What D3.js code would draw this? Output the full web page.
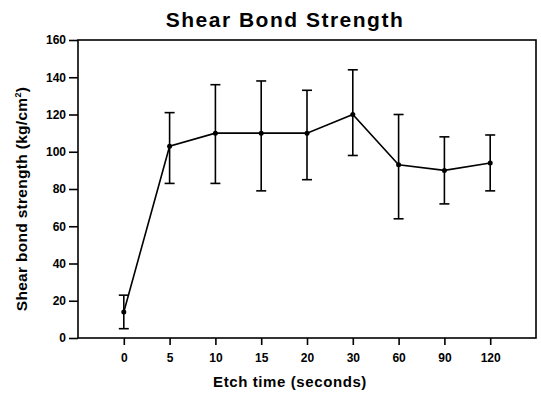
<!DOCTYPE html>
<html>
<head>
<meta charset="utf-8">
<script src="https://cdn.jsdelivr.net/npm/d3@7"></script>
<style>
  body { margin: 0; background: #fff; }
  text { font-family: "Liberation Sans", Arial, sans-serif; font-weight: bold; fill: #000; }
</style>
</head>
<body>
<div id="chart"></div>
<script>
// etch time categories (seconds) and mean / error limits
var times = ["0", "5", "10", "15", "20", "30", "60", "90", "120"];
var means = [14, 103, 110, 110, 110, 120, 93, 90, 94];
var upper = [23, 121, 136, 138, 133, 144, 120, 108, 109];
var lower = [5, 83, 83, 79, 85, 98, 64, 72, 79];
var yTicks = [0, 20, 40, 60, 80, 100, 120, 140, 160];

var width = 541, height = 393;
var padding = {top: 40, right: 5, bottom: 55, left: 78};

var svg = d3.select("#chart")
            .append("svg")
              .attr("width", width)
              .attr("height", height);

var xScale = d3.scalePoint()
               .domain(times)
               .range([padding.left, width - padding.right])
               .padding(1);

var yScale = d3.scaleLinear()
               .domain([0, 160])
               .range([height - padding.bottom, padding.top]);

var data = times.map((t, i) => ({t: t, m: means[i], hi: upper[i], lo: lower[i]}));

// frame
svg.append("rect")
   .attr("x", padding.left)
   .attr("y", padding.top)
   .attr("width", width - padding.left - padding.right)
   .attr("height", height - padding.top - padding.bottom)
   .attr("fill", "none")
   .attr("stroke", "#000")
   .attr("stroke-width", 1.6);

var yAxis = svg.append("g")
   .attr("transform", "translate(" + padding.left + ",0)")
   .call(d3.axisLeft(yScale).tickValues(yTicks).tickSize(9).tickPadding(3));
var xAxis = svg.append("g")
   .attr("transform", "translate(0," + (height - padding.bottom) + ")")
   .call(d3.axisBottom(xScale).tickSize(7).tickPadding(8));

[yAxis, xAxis].forEach(function(ax) {
  ax.select(".domain").remove();
  ax.selectAll("line").attr("stroke", "#000").attr("stroke-width", 1.6);
  ax.selectAll("text")
    .attr("font-family", "'Liberation Sans', Arial, sans-serif")
    .attr("font-weight", "bold")
    .attr("font-size", 12);
});

// error bars
var bars = svg.append("g").attr("stroke", "#000").attr("stroke-width", 1.6);
bars.selectAll(".err")
    .data(data)
    .enter()
    .append("line")
      .attr("x1", d => xScale(d.t))
      .attr("x2", d => xScale(d.t))
      .attr("y1", d => yScale(d.hi))
      .attr("y2", d => yScale(d.lo));
["hi", "lo"].forEach(function(k) {
  bars.selectAll(".cap-" + k)
      .data(data)
      .enter()
      .append("line")
        .attr("x1", d => xScale(d.t) - 5)
        .attr("x2", d => xScale(d.t) + 5)
        .attr("y1", d => yScale(d[k]))
        .attr("y2", d => yScale(d[k]));
});

// mean line and points
svg.append("path")
   .datum(data)
   .attr("fill", "none")
   .attr("stroke", "#000")
   .attr("stroke-width", 1.6)
   .attr("d", d3.line().x(d => xScale(d.t)).y(d => yScale(d.m)));

svg.selectAll(".pt")
   .data(data)
   .enter()
   .append("circle")
     .attr("cx", d => xScale(d.t))
     .attr("cy", d => yScale(d.m))
     .attr("r", 2.5)
     .attr("fill", "#000");

// titles
svg.append("text")
   .attr("x", 285)
   .attr("y", 27)
   .attr("text-anchor", "middle")
   .attr("font-size", 21)
   .attr("letter-spacing", 1.5)
   .text("Shear Bond Strength");

svg.append("text")
   .attr("x", 290)
   .attr("y", 387)
   .attr("text-anchor", "middle")
   .attr("font-size", 15)
   .attr("letter-spacing", 0.6)
   .text("Etch time (seconds)");

var yl = svg.append("text")
   .attr("transform", "translate(27," + 199 + ") rotate(-90)")
   .attr("text-anchor", "middle")
   .attr("font-size", 15.5)
   .attr("letter-spacing", 0.3);
yl.append("tspan").text("Shear bond strength (kg/cm");
yl.append("tspan").attr("dy", -6).attr("font-size", 9).text("2");
yl.append("tspan").attr("dy", 6).text(")");
</script>
</body>
</html>
